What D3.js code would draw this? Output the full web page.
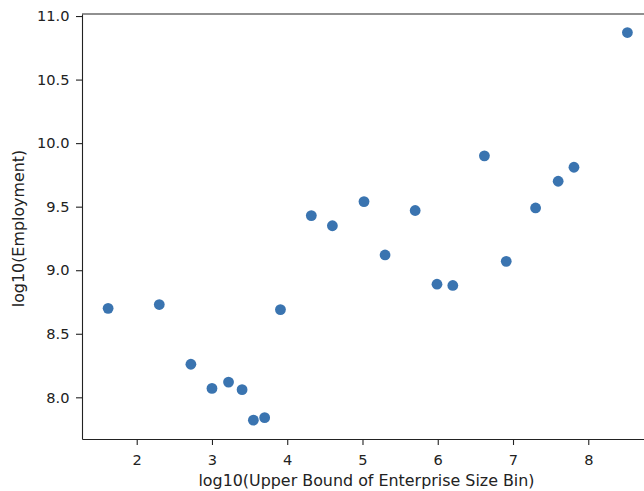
<!DOCTYPE html>
<html>
<head>
<meta charset="utf-8">
<script src="https://cdn.jsdelivr.net/npm/d3@7"></script>
<style>
  body { margin: 0; background: #fff; }
  svg { display: block; font-family: "DejaVu Sans", sans-serif; }
</style>
</head>
<body>
<svg id="drawing_region"></svg>
<script>
// log10 of the bin upper bound
var sizeBin = [1.62, 2.30, 2.72, 3.00, 3.22, 3.40, 3.55, 3.70, 3.91, 4.32, 4.60,
               5.02, 5.30, 5.70, 5.99, 6.20, 6.62, 6.91, 7.30, 7.60, 7.81, 8.52];
// log10 employment
var employment = [8.70, 8.73, 8.26, 8.07, 8.12, 8.06, 7.82, 7.84, 8.69, 9.43, 9.35,
                  9.54, 9.12, 9.47, 8.89, 8.88, 9.90, 9.07, 9.49, 9.70, 9.81, 10.87];
var xTicks = [2, 3, 4, 5, 6, 7, 8];
var yTicks = [8.0, 8.5, 9.0, 9.5, 10.0, 10.5, 11.0];

var width = 644;
var height = 491;
var margin = {top: 14, left: 82, bottom: 439};
var rightEdge = 656; // axes box runs a bit past the window

var svg = d3.select('#drawing_region')
    .attr('width', width)
    .attr('height', height);

const xscale = d3.scaleLinear()
      .domain([1.273, 8.90])
      .range([margin.left, rightEdge]);

const yscale = d3.scaleLinear()
      .domain([7.672, 11.016])
      .range([margin.bottom, margin.top]);

const xaxis = d3.axisBottom(xscale)
      .tickValues(xTicks)
      .tickFormat(d3.format('d'))
      .tickSize(6)
      .tickPadding(10)
      .tickSizeOuter(0);

const yaxis = d3.axisLeft(yscale)
      .tickValues(yTicks)
      .tickFormat(d3.format('.1f'))
      .tickSize(6)
      .tickPadding(6.5)
      .tickSizeOuter(0);

// points
svg.append('g')
  .selectAll('circle')
  .data(sizeBin)
  .join('circle')
    .attr('cx', d => xscale(d))
    .attr('cy', (d, i) => yscale(employment[i]))
    .attr('r', 5.4)
    .attr('fill', '#3a74b0');

const xg = svg.append('g')
    .attr('transform', `translate(0, ${margin.bottom})`)
    .call(xaxis);

const yg = svg.append('g')
    .attr('transform', `translate(${margin.left}, 0)`)
    .call(yaxis);

[xg, yg].forEach(g => {
  g.selectAll('text').attr('font-size', '14.6px').attr('fill', '#222')
    .attr('font-family', '"DejaVu Sans", sans-serif');
  g.selectAll('line').attr('stroke', '#222').attr('stroke-width', 1.1);
  g.select('.domain').attr('stroke', '#222').attr('stroke-width', 1.1);
});

// top spine
svg.append('line')
    .attr('x1', margin.left).attr('x2', rightEdge)
    .attr('y1', margin.top).attr('y2', margin.top)
    .attr('stroke', '#222').attr('stroke-width', 1.1);

svg.append('text')
    .attr('x', 366.5)
    .attr('y', 485.5)
    .attr('text-anchor', 'middle')
    .attr('font-size', '15.9px')
    .attr('fill', '#222')
    .text('log10(Upper Bound of Enterprise Size Bin)');

svg.append('text')
    .attr('transform', 'translate(24, 228.5) rotate(-90)')
    .attr('text-anchor', 'middle')
    .attr('font-size', '15.9px')
    .attr('fill', '#222')
    .text('log10(Employment)');
</script>
</body>
</html>
